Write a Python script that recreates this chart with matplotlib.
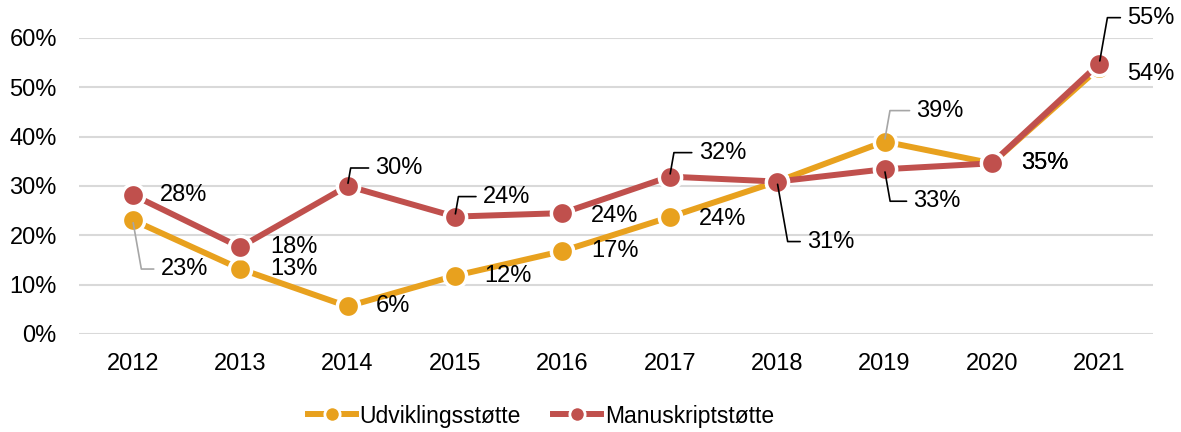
import matplotlib.pyplot as plt
from matplotlib.lines import Line2D

years = ["2012", "2013", "2014", "2015", "2016", "2017", "2018", "2019", "2020", "2021"]
udvikling = [0.231, 0.132, 0.056, 0.118, 0.168, 0.237, 0.309, 0.390, 0.346, 0.540]
manuskript = [0.282, 0.176, 0.300, 0.238, 0.245, 0.319, 0.309, 0.334, 0.346, 0.548]
series_names = ["Udviklingsstøtte", "Manuskriptstøtte"]
yticks = [0, 0.1, 0.2, 0.3, 0.4, 0.5, 0.6]

orange = "#E8A11E"
red = "#C0504D"

# label offsets in pixels (dx, dy, leader line); None = no label shown
orange_offsets = [(28, -49, True), (30, 0, False), (28, 0, False), (29, 0, False), (29, 0, False),
                  (29, -2, False), None, (32, 31, True), (29, 0, False), (28, -6, False)]
red_offsets = [(27, 0, False), (30, 0, False), (28, 18, True), (28, 20, True), (29, -3, False),
               (29, 24, True), (30, -60, True), (29, -32, True), (29, 0, False), (28, 46, True)]

plt.rcParams["font.family"] = ["Liberation Sans", "DejaVu Sans"]
fs = 17

fig = plt.figure(figsize=(11.81, 4.32), dpi=100)
ax = fig.add_axes([79 / 1181, 98 / 432, 1074 / 1181, 296 / 432])

x = list(range(len(years)))
for vals, col in [(udvikling, orange), (manuskript, red)]:
    ax.plot(x, vals, color=col, lw=4.3, marker="o", ms=16, mfc=col, mec="white",
            mew=2.5, clip_on=False, zorder=3)


def add_labels(vals, offsets, leader_col):
    for i, v in enumerate(vals):
        if offsets[i] is None:
            continue
        dx, dy, leader = offsets[i]
        txt = "{:.0f}%".format(v * 100)
        if leader:
            angle_b = 80 if dy > 0 else -80
            ax.annotate(txt, (i, v), xytext=(dx, dy), textcoords="offset pixels",
                        fontsize=fs, ha="left", va="center", zorder=5,
                        arrowprops=dict(arrowstyle="-", color=leader_col, lw=1.2,
                                        connectionstyle="angle,angleA=0,angleB=%d" % angle_b,
                                        shrinkA=3, shrinkB=2))
        else:
            ax.annotate(txt, (i, v), xytext=(dx, dy), textcoords="offset pixels",
                        fontsize=fs, ha="left", va="center", zorder=5)


add_labels(udvikling, orange_offsets, "#a6a6a6")
add_labels(manuskript, red_offsets, "black")

ax.set_xlim(-0.5, len(years) - 0.5)
ax.set_ylim(0, 0.6)
ax.set_xticks(x)
ax.set_xticklabels(years, fontsize=fs)
ax.set_yticks(yticks)
ax.set_yticklabels(["{:.0f}%".format(t * 100) for t in yticks], fontsize=fs)
ax.tick_params(length=0)
ax.tick_params(axis="y", pad=16)
ax.tick_params(axis="x", pad=14)
ax.grid(axis="y", color="#d9d9d9", lw=1.5)
ax.set_axisbelow(True)
for s in ax.spines.values():
    s.set_visible(False)

handles = [Line2D([], [], color=orange, lw=4.3, marker="o", ms=11, mfc=orange, mec="white", mew=2),
           Line2D([], [], color=red, lw=4.3, marker="o", ms=11, mfc=red, mec="white", mew=2)]
fig.legend(handles, series_names, loc="center", bbox_to_anchor=(541 / 1181, 16 / 432),
           ncol=2, frameon=False, fontsize=16.5, handlelength=2.1, handletextpad=0.15,
           columnspacing=1.4)

fig.savefig("out.png", dpi=100)
